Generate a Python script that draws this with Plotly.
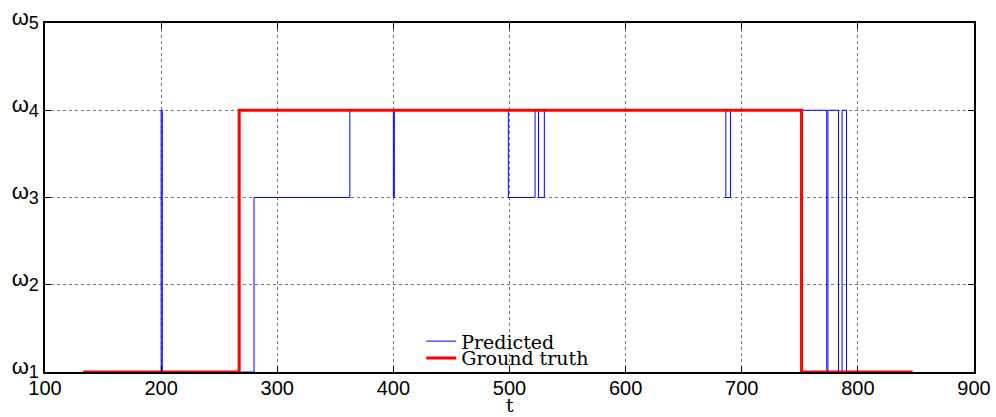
import plotly.graph_objects as go

# Predicted state sequence (change points, step 'hv')
pred_t = [133, 200, 201, 280, 362.5, 400, 400.8, 499, 522, 525, 530,
          686.3, 690.3, 773.2, 774.2, 783.3, 786.4, 790.2, 847]
pred_s = [1, 4, 1, 3, 4, 3, 4, 3, 4, 3, 4,
          3, 4, 1, 4, 1, 4, 1, 1]

# Ground truth state sequence
gt_t = [133, 267.2, 751.5, 847]
gt_s = [1, 4, 1, 1]

x_ticks = [100, 200, 300, 400, 500, 600, 700, 800, 900]
y_ticks = [1, 2, 3, 4, 5]
y_labels = ["ω<sub><span style='font-size:18px'>%d</span></sub>" % v for v in y_ticks]

serif = "DejaVu Serif, Liberation Serif, serif"

fig = go.Figure()
fig.add_trace(go.Scatter(x=pred_t, y=pred_s, mode="lines", line_shape="hv",
                         line=dict(color="#0000FF", width=1), name="Predicted",
                         legend="legend"))
fig.add_trace(go.Scatter(x=gt_t, y=gt_s, mode="lines", line_shape="hv",
                         line=dict(color="#FF0000", width=3), name="Ground truth",
                         legend="legend2"))

leg_common = dict(xanchor="left", yanchor="middle", bgcolor="rgba(0,0,0,0)",
                  borderwidth=0, font=dict(family=serif, size=19), itemwidth=30)

fig.update_layout(
    width=996, height=417,
    margin=dict(l=45, r=22, t=23, b=45),
    plot_bgcolor="white", paper_bgcolor="white",
    font=dict(family="Liberation Sans, Arial, sans-serif", size=20, color="black"),
    showlegend=True,
    legend=dict(x=0.405, y=0.088, **leg_common),
    legend2=dict(x=0.405, y=0.040, **leg_common),
    annotations=[dict(text="t", x=0.5, y=-0.094, xref="paper", yref="paper",
                      xanchor="center", yanchor="middle", showarrow=False,
                      font=dict(family=serif, size=19))],
)
fig.update_xaxes(
    range=[100, 900], tickvals=x_ticks, ticktext=[str(v) for v in x_ticks],
    showline=True, linecolor="black", linewidth=1.5, mirror="ticks",
    ticks="inside", ticklen=6, tickcolor="black",
    showgrid=True, gridcolor="#777777", griddash="dot", gridwidth=1,
    zeroline=False, automargin=False,
    tickfont=dict(size=20), ticklabelstandoff=-3,
)
fig.update_yaxes(
    range=[1, 5], tickvals=y_ticks, ticktext=y_labels,
    showline=True, linecolor="black", linewidth=1.5, mirror="ticks",
    ticks="inside", ticklen=6, tickcolor="black",
    showgrid=True, gridcolor="#777777", griddash="dot", gridwidth=1,
    zeroline=False, automargin=False,
    tickfont=dict(size=22), ticklabelshift=-6,
)

fig.write_html("out.html")
